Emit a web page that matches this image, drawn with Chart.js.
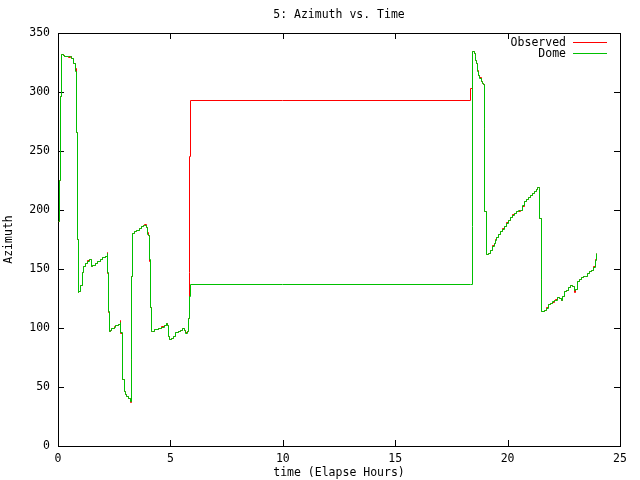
<!DOCTYPE html>
<html>
<head>
<meta charset="utf-8">
<script src="https://cdn.jsdelivr.net/npm/chart.js@4/dist/chart.umd.min.js"></script>
<style>
html,body{margin:0;padding:0;background:#fff;}
#c{display:block;}
</style>
</head>
<body>
<canvas id="c" width="640" height="480"></canvas>
<script>
const chartTitle = "5: Azimuth vs. Time";
const xTitle = "time (Elapse Hours)";
const yTitle = "Azimuth";
const seriesNames = ["Observed", "Dome"];

const hours = [
0.00,0.05,0.10,0.15,0.25,0.30,0.45,0.55,0.62,0.70,0.77,0.81,0.86,0.89,0.93,1.02,1.08,1.13,1.22,1.30,
1.41,1.51,1.55,1.65,1.75,1.91,2.00,2.10,2.18,2.21,2.24,2.27,2.32,2.39,2.50,2.58,2.68,2.76,2.79,2.80,
2.85,2.89,2.94,3.00,3.06,3.13,3.22,3.25,3.28,3.31,3.40,3.50,3.62,3.71,3.80,3.87,3.92,3.97,4.01,4.06,
4.09,4.12,4.15,4.22,4.31,4.45,4.61,4.75,4.83,4.88,4.91,4.95,5.05,5.13,5.22,5.35,5.43,5.54,5.62,5.69,
5.75,5.80,5.83,5.86,5.90,10.00,18.37,18.42,18.46,18.52,18.55,18.59,18.63,18.68,18.72,18.77,18.83,18.89,18.93,18.96,
18.99,19.04,19.14,19.22,19.31,19.40,19.46,19.52,19.60,19.69,19.78,19.87,19.96,20.05,20.14,20.23,20.32,20.41,20.49,20.58,
20.67,20.76,20.85,20.94,21.03,21.12,21.21,21.27,21.32,21.41,21.44,21.49,21.53,21.62,21.71,21.80,21.89,21.98,22.07,22.15,
22.24,22.32,22.39,22.45,22.54,22.63,22.72,22.81,22.90,22.97,23.03,23.10,23.19,23.28,23.37,23.46,23.55,23.63,23.72,23.81,
23.89,23.95
];

const observed = [
190,225,296,332,331,330,329,330,328,324,320,266,175,130,131,136,147,152,155,157,
158,152,153,155,156,158,160,161,164,146,113,97,98,100,101,102,103,106,105,95,
76,56,46,44,42,40,37,73,144,180,182,183,184,186,187,188,185,181,178,177,
156,117,97,97,99,100,101,102,104,102,93,90,91,93,96,97,98,100,98,96,
97,108,147,245,293,292.5,303,324,334,333,330,327,324,318,314,312,309,307,306,269,
199,162,163,166,170,172,175,177,179,182,184,186,189,191,194,196,197,199,199,200,
203,207,209,211,212,214,216,217,219,218.5,193,141,114,115,117,120,121,122,123,124,
126,125,123,127,131,132,134,136,135,130,133,139,141,143,144,144,146,148,149,152,
158,163
];

const dome = [
190,225,296,332,331,330,330,330,328,324,317,266,175,130,131,136,147,152,155,156,
158,152,153,155,156,158,160,161,163,147,114,97,98,100,100.6,101.7,103,104.5,105,96,
77,56,46,44,42,40,38,73,144,180,181.6,183,184,185.8,186.5,187,185,179,178,177,
158,117,97,97,98.9,100,100.6,101.7,104,102,93,90,91,93,96,97,97.7,99.4,98,95.5,
97,108,127,127,137,137,137,186,334,333,330,327,324,317,314,311.6,308.7,307.4,306,269,
199,162,163,166,169,172,174,177,179,181.6,183.5,186,188.7,191,193.5,195.5,197,198.5,199.4,200,
203.4,207,209,210.4,212,214,215.5,217,219,218.5,193,141,114,115,116.7,119.5,121,122.3,123,123.5,
125.7,125,123,127,130.8,132,134,135.6,135,131.4,133,139.3,141,142.7,143.5,144,146,147.7,149,151.4,
157.6,163
];

const xTicks = [0,5,10,15,20,25];
const yTicks = [0,50,100,150,200,250,300,350];
const seriesColors = ["#ff0000", "#00c000"];

const FONT = "'DejaVu Sans Mono', 'Liberation Mono', monospace";

const framePlugin = {
  id: 'gnuFrame',
  beforeDatasetsDraw(chart) {
    // snap computed pixel positions to the pixel grid for crisp 1px lines
    chart.data.datasets.forEach((ds, i) => {
      const meta = chart.getDatasetMeta(i);
      meta.data.forEach(el => {
        el.x = Math.floor(el.x) + 0.5;
        el.y = Math.floor(el.y) + 0.5;
      });
    });
    const ctx = chart.ctx, a = chart.chartArea;
    const xs = chart.scales.x, ys = chart.scales.y;
    ctx.save();
    ctx.strokeStyle = '#000';
    ctx.lineWidth = 1;
    ctx.strokeRect(Math.round(a.left) + 0.5, Math.round(a.top) + 0.5,
                   Math.round(a.right - a.left), Math.round(a.bottom - a.top));
    const tl = 6;
    ctx.beginPath();
    xTicks.forEach(v => {
      const px = Math.round(xs.getPixelForValue(v)) + 0.5;
      ctx.moveTo(px, a.bottom); ctx.lineTo(px, a.bottom - tl);
      ctx.moveTo(px, a.top); ctx.lineTo(px, a.top + tl);
    });
    yTicks.forEach(v => {
      const py = Math.round(ys.getPixelForValue(v)) + 0.5;
      ctx.moveTo(a.left, py); ctx.lineTo(a.left + tl, py);
      ctx.moveTo(a.right, py); ctx.lineTo(a.right - tl, py);
    });
    ctx.stroke();
    ctx.restore();
  },
  afterDraw(chart) {
    const ctx = chart.ctx, a = chart.chartArea;
    ctx.save();
    ctx.fillStyle = '#000';
    ctx.font = "11.5px " + FONT;
    ctx.textAlign = 'center';
    ctx.textBaseline = 'middle';
    ctx.fillText(chartTitle, (a.left + a.right) / 2, 15);
    ctx.textAlign = 'right';
    seriesNames.forEach((name, i) => {
      const y = a.top + 10 + i * 11;
      ctx.fillStyle = '#000';
      ctx.fillText(name, a.right - 54, y);
      ctx.strokeStyle = seriesColors[i];
      ctx.lineWidth = 1;
      ctx.beginPath();
      ctx.moveTo(a.right - 47, Math.round(y) - 0.5);
      ctx.lineTo(a.right - 13, Math.round(y) - 0.5);
      ctx.stroke();
    });
    ctx.restore();
  }
};

const toPoints = vals => hours.map((h, i) => ({x: h, y: vals[i]}));

new Chart(document.getElementById('c'), {
  type: 'line',
  data: {
    datasets: [
      {label: seriesNames[0], data: toPoints(observed), borderColor: seriesColors[0],
       borderWidth: 1, pointRadius: 0, stepped: 'before', fill: false, order: 2},
      {label: seriesNames[1], data: toPoints(dome), borderColor: seriesColors[1],
       borderWidth: 1, pointRadius: 0, stepped: 'before', fill: false, order: 1}
    ]
  },
  options: {
    responsive: false,
    animation: false,
    devicePixelRatio: 1,
    layout: {padding: {left: 0, right: 20, top: 33, bottom: 0}},
    plugins: {legend: {display: false}, tooltip: {enabled: false}, title: {display: false}},
    scales: {
      x: {
        type: 'linear', min: 0, max: 25,
        afterFit(s) { s.height = 34; },
        afterBuildTicks(s) { s.ticks = xTicks.map(v => ({value: v})); },
        grid: {display: false, drawTicks: false},
        border: {display: false},
        ticks: {color: '#000', padding: 6, maxRotation: 0, font: {family: FONT, size: 11.5}},
        title: {display: true, text: xTitle, color: '#000', padding: {top: 0, bottom: 0},
                font: {family: FONT, size: 11.5}}
      },
      y: {
        type: 'linear', min: 0, max: 350,
        afterFit(s) { s.width = 58; },
        afterBuildTicks(s) { s.ticks = yTicks.map(v => ({value: v})); },
        grid: {display: false, drawTicks: false},
        border: {display: false},
        ticks: {color: '#000', padding: 8, font: {family: FONT, size: 11.5}},
        title: {display: true, text: yTitle, color: '#000', padding: {top: 2, bottom: 0},
                font: {family: FONT, size: 11.5}}
      }
    }
  },
  plugins: [framePlugin]
});
</script>
</body>
</html>
